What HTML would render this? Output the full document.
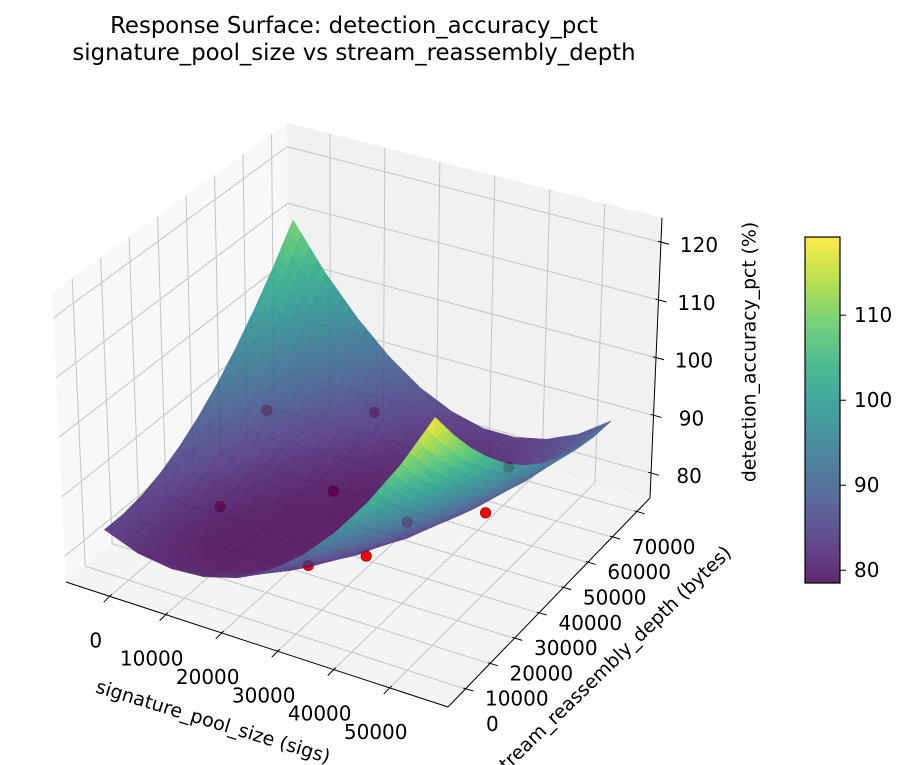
<!DOCTYPE html>
<html><head><meta charset="utf-8"><style>
html,body{margin:0;padding:0;background:#fff;}
svg{display:block;font-family:"DejaVu Sans","Liberation Sans",sans-serif;}
</style></head><body>
<svg id="chart" width="909" height="765" viewBox="0 0 909 765">
<defs>
<linearGradient id="vir" x1="0" y1="1" x2="0" y2="0">
<stop offset="0" stop-color="#440154"/><stop offset="0.125" stop-color="#472d7b"/><stop offset="0.25" stop-color="#3b528b"/><stop offset="0.375" stop-color="#2c728e"/><stop offset="0.5" stop-color="#21918c"/><stop offset="0.625" stop-color="#28ae80"/><stop offset="0.75" stop-color="#5ec962"/><stop offset="0.875" stop-color="#addc30"/><stop offset="1" stop-color="#fde725"/>
</linearGradient>
</defs>
<text x="354" y="33" text-anchor="middle" font-size="22.8">Response Surface: detection_accuracy_pct</text>
<text x="354" y="60" text-anchor="middle" font-size="22.8">signature_pool_size vs stream_reassembly_depth</text>
<g id="panes"></g>
<g id="grid"></g>
<g id="axes"></g>
<g id="scatter"></g>
<g id="surface" opacity="0.85"></g>
<g id="labels"></g>
<text x="0" y="0" font-size="19" text-anchor="middle" dominant-baseline="central" transform="translate(213,722) rotate(17)">signature_pool_size (sigs)</text>
<text x="0" y="0" font-size="19" text-anchor="middle" dominant-baseline="central" transform="translate(612,662) rotate(-44)">stream_reassembly_depth (bytes)</text>
<text x="0" y="0" font-size="18.8" text-anchor="middle" dominant-baseline="central" transform="translate(750,352) rotate(-90)">detection_accuracy_pct (%)</text>
<g id="colorbar"></g>
</svg>
<script>
// ---- data ----
const xGrid = [-4000,1900,7800,13700,19600,25500,31400,37300,43200,49100,55000];
const yGrid = [0,7000,14000,21000,28000,35000,42000,49000,56000,63000,70000];
// zGrid[j][i]: j = y index, i = x index
const zGrid = [
[83.0,80.8,80.0,80.4,82.0,85.0,89.2,94.8,101.6,109.6,119.0],
[83.0,80.3,78.8,78.7,79.8,82.2,85.9,90.8,97.1,104.6,113.4],
[83.6,80.3,78.5,78.5,78.5,80.0,83.1,87.5,93.2,100.2,108.4],
[84.8,81.0,78.5,78.5,78.5,78.5,81.0,84.8,89.9,96.3,104.0],
[86.6,82.2,79.1,78.5,78.5,78.5,79.4,82.7,87.2,93.1,100.2],
[89.0,84.0,80.4,78.5,78.5,78.5,78.5,81.2,85.2,90.4,97.0],
[92.0,86.5,82.2,79.3,78.5,78.5,78.5,80.2,83.7,88.4,94.4],
[95.6,89.5,84.7,81.2,79.0,78.5,78.5,79.9,82.8,87.0,92.4],
[99.8,93.2,87.8,83.7,80.9,79.4,79.2,80.2,82.5,86.1,91.0],
[104.6,97.4,91.5,86.8,83.5,81.4,80.6,81.1,82.8,85.9,90.2],
[110.0,102.2,95.8,90.6,86.6,84.0,82.6,82.6,83.8,86.2,90.0]
];
const ptX = [12200,5100,22200,20100,29900,36300,36900,43900,43000];
const ptY = [9700,41900,31400,51400,5400,14000,28700,44500,55500];
const ptZ = [88,90,85,90,85,85,85,82,85];
const xTicks = [0,10000,20000,30000,40000,50000];
const yTicks = [0,10000,20000,30000,40000,50000,60000,70000];
const zTicks = [80,90,100,110,120];
const cbTicks = [80,90,100,110];
const XMIN=-7800, XMAX=60400, YMIN=-7100, YMAX=75450, ZMIN=75.7, ZMAX=124.2;
const CBMIN=78.5, CBMAX=119.2;

const NS='http://www.w3.org/2000/svg';
const A=[66,582],B=[448,707],C=[650,498],D=[289,397];
const A2=[52,293],B2=[448,412],C2=[662,218],D2=[287,123];
function bil(u,v,P,Q,R,S,k){return (1-u)*(1-v)*P[k]+u*(1-v)*Q[k]+u*v*R[k]+(1-u)*v*S[k];}
function proj(x,y,z){
  const u=(x-XMIN)/(XMAX-XMIN), v=(y-YMIN)/(YMAX-YMIN), w=(z-ZMIN)/(ZMAX-ZMIN);
  const fx=bil(u,v,A,B,C,D,0), fy=bil(u,v,A,B,C,D,1);
  const tx=bil(u,v,A2,B2,C2,D2,0), ty=bil(u,v,A2,B2,C2,D2,1);
  return [fx+w*(tx-fx), fy+w*(ty-fy)];
}
function mk(tag,attrs,parent){const e=document.createElementNS(NS,tag);for(const k in attrs)e.setAttribute(k,attrs[k]);parent.appendChild(e);return e;}
function pts(arr){return arr.map(p=>p[0].toFixed(1)+','+p[1].toFixed(1)).join(' ');}
const stops=[[68,1,84],[71,45,123],[59,82,139],[44,114,142],[33,145,140],[40,174,128],[94,201,98],[173,220,48],[253,231,37]];
function vir(t){t=Math.max(0,Math.min(1,t));const s=t*8,i=Math.min(7,Math.floor(s)),f=s-i;const a=stops[i],b=stops[i+1];
 return 'rgb('+Math.round(a[0]+(b[0]-a[0])*f)+','+Math.round(a[1]+(b[1]-a[1])*f)+','+Math.round(a[2]+(b[2]-a[2])*f)+')';}

// panes
const panes=document.getElementById('panes');
let e;
e=mk('polygon',{points:pts([proj(XMIN,YMIN,ZMIN),proj(XMAX,YMIN,ZMIN),proj(XMAX,YMAX,ZMIN),proj(XMIN,YMAX,ZMIN)]),fill:'#f4f4f4'},panes);

e=mk('polygon',{points:pts([proj(XMIN,YMIN,ZMIN),proj(XMIN,YMAX,ZMIN),proj(XMIN,YMAX,ZMAX),proj(XMIN,YMIN,ZMAX)]),fill:'#f8f8f8'},panes);

e=mk('polygon',{points:pts([proj(XMIN,YMAX,ZMIN),proj(XMAX,YMAX,ZMIN),proj(XMAX,YMAX,ZMAX),proj(XMIN,YMAX,ZMAX)]),fill:'#f1f1f1'},panes);


// grid
const grid=document.getElementById('grid');
function gl(p,q,name){const l=mk('line',{x1:p[0],y1:p[1],x2:q[0],y2:q[1],stroke:'#c4c4c4','stroke-width':1},grid);
 }
yTicks.forEach(y=>{gl(proj(XMIN,y,ZMIN),proj(XMIN,y,ZMAX),'grid-left-y');gl(proj(XMIN,y,ZMIN),proj(XMAX,y,ZMIN),'grid-floor-y');});
xTicks.forEach(x=>{gl(proj(x,YMAX,ZMIN),proj(x,YMAX,ZMAX),'grid-back-x');gl(proj(x,YMIN,ZMIN),proj(x,YMAX,ZMIN),'grid-floor-x');});
zTicks.forEach(z=>{gl(proj(XMIN,YMIN,z),proj(XMIN,YMAX,z),'grid-left-z');gl(proj(XMIN,YMAX,z),proj(XMAX,YMAX,z),'grid-back-z');});

// axes lines + ticks
const axes=document.getElementById('axes');
function al(p,q,name,w){const l=mk('line',{x1:p[0],y1:p[1],x2:q[0],y2:q[1],stroke:'#000','stroke-width':w||1},axes);
 }
al(proj(XMIN,YMIN,ZMIN),proj(XMAX,YMIN,ZMIN),'x-axis-line');
al(proj(XMAX,YMIN,ZMIN),proj(XMAX,YMAX,ZMIN),'y-axis-line');
al(proj(XMAX,YMAX,ZMIN),proj(XMAX,YMAX,ZMAX),'z-axis-line');
const labels=document.getElementById('labels');
function tl(x,y,txt,name,anchor){const t=mk('text',{x:x.toFixed(1),y:y.toFixed(1),'font-size':20,'text-anchor':anchor||'middle','dominant-baseline':'central'},labels);
 t.textContent=txt;}
xTicks.forEach(x=>{const p=proj(x,YMIN,ZMIN);al([p[0]+2,p[1]-2],[p[0]-6,p[1]+6],'x-tick');tl(p[0]-14,p[1]+44,String(x),'x-tick-label');});
yTicks.forEach(y=>{const p=proj(XMAX,y,ZMIN);al([p[0]-2,p[1]-1],[p[0]+8,p[1]+2],'y-tick');tl(p[0]+27,p[1]+35,String(y),'y-tick-label');});
zTicks.forEach(z=>{const p=proj(XMAX,YMAX,z);al([p[0]-3,p[1]-1],[p[0]+8,p[1]+2],'z-tick');tl(p[0]+38,p[1]+3,String(z),'z-tick-label');});

// scatter
const sc=document.getElementById('scatter');
ptX.forEach((x,i)=>{const p=proj(x,ptY[i],ptZ[i]);
 const c=mk('circle',{cx:p[0].toFixed(1),cy:p[1].toFixed(1),r:5.2,fill:'#ff0000',stroke:'#7a0000','stroke-width':0.7},sc);
 
 });

// surface
const surf=document.getElementById('surface');
const SUB=4, quads=[];
for(let j=0;j<yGrid.length-1;j++)for(let i=0;i<xGrid.length-1;i++){
 for(let b=0;b<SUB;b++)for(let a=0;a<SUB;a++){
  const corner=(aa,bb)=>{const fu=aa/SUB,fv=bb/SUB;
   const z=(1-fu)*(1-fv)*zGrid[j][i]+fu*(1-fv)*zGrid[j][i+1]+fu*fv*zGrid[j+1][i+1]+(1-fu)*fv*zGrid[j+1][i];
   const x=xGrid[i]+(xGrid[i+1]-xGrid[i])*fu,y=yGrid[j]+(yGrid[j+1]-yGrid[j])*fv;return [x,y,z];};
  const cs=[corner(a,b),corner(a+1,b),corner(a+1,b+1),corner(a,b+1)];
  let mx=0,my=0,mz=0;cs.forEach(c=>{mx+=c[0]/4;my+=c[1]/4;mz+=c[2]/4;});
  const u=(mx-XMIN)/(XMAX-XMIN),v=(my-YMIN)/(YMAX-YMIN),w=(mz-ZMIN)/(ZMAX-ZMIN);
  quads.push({d:0.5*u-0.87*v+0.4*w,p:cs.map(c=>proj(c[0],c[1],c[2])),z:mz});
 }}
quads.sort((q1,q2)=>q1.d-q2.d);
quads.forEach(q=>{const col=vir((q.z-CBMIN)/(CBMAX-CBMIN));
 const pg=mk('polygon',{points:pts(q.p),fill:col,stroke:col,'stroke-width':0.6,'stroke-linejoin':'round'},surf);
 
 });

// colorbar
const cb=document.getElementById('colorbar');
const CBX=805,CBW=35,CBTOP=237,CBBOT=583;
e=mk('rect',{x:CBX,y:CBTOP,width:CBW,height:CBBOT-CBTOP,fill:'url(#vir)',opacity:0.85},cb);

e=mk('rect',{x:CBX,y:CBTOP,width:CBW,height:CBBOT-CBTOP,fill:'none',stroke:'#000','stroke-width':1.2},cb);

cbTicks.forEach(t=>{const y=CBBOT-(t-CBMIN)/(CBMAX-CBMIN)*(CBBOT-CBTOP);
 const l=mk('line',{x1:CBX+CBW,y1:y,x2:CBX+CBW+6,y2:y,stroke:'#000','stroke-width':1},cb);
 
 const tx=mk('text',{x:CBX+CBW+14,y:y,'font-size':20,'dominant-baseline':'central'},cb);
 tx.textContent=String(t);});
</script>
</body></html>
